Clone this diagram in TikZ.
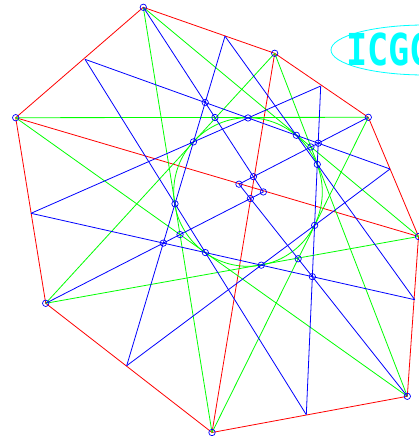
\documentclass[tikz,border=0pt]{standalone}
\usepackage{graphicx}
\usepackage{fontspec}
\newfontfamily\logofont{DejaVu Sans Mono}
\definecolor{logocyan}{RGB}{0,255,255}
\begin{document}
\begin{tikzpicture}[x=1pt, y=-1pt, line width=0.8pt,
  edge/.style={red},
  diag/.style={green},
  chord/.style={blue},
  ray/.style={blue},
  dot/.style={blue, line width=0.7pt}]
\useasboundingbox (0,0) rectangle (419,436);
% octagon
\coordinate (P1) at (143.3,7.3);
\coordinate (P2) at (274.7,53.3);
\coordinate (P3) at (368.3,117.3);
\coordinate (P4) at (418.5,236.5);
\coordinate (P5) at (407.3,396.3);
\coordinate (P6) at (212.0,432.5);
\coordinate (P7) at (45.7,303.3);
\coordinate (P8) at (15.7,117.7);
% points on the sides
\coordinate (Q1) at (85.0,59.3);
\coordinate (Q2) at (225.0,36.2);
\coordinate (Q3) at (320.7,86.0);
\coordinate (Q4) at (390.0,169.0);
\coordinate (Q5) at (414.7,299.7);
\coordinate (Q6) at (306.3,414.7);
\coordinate (Q7) at (126.7,365.7);
\coordinate (Q8) at (31.0,213.3);
\draw[edge] (P1) -- (P2) -- (P3) -- (P4) -- (P5) -- (P6) -- (P7) -- (P8) -- cycle;
\draw[edge] (P2) -- (P6);
\draw[edge] (P8) -- (P4);
% green diagonals and their circle
\foreach \a/\b in {1/4,2/5,3/6,4/7,5/8,6/1,7/2,8/3}
  \draw[diag] (P\a) -- (P\b);
\draw[diag] (248,192) circle (74.3);
% blue chords
\foreach \a/\b in {1/4,1/6,2/5,2/7,3/6,3/8,4/7,5/8}
  \draw[chord] (Q\a) -- (Q\b);
\coordinate (X1) at (intersection of Q1--Q4 and Q2--Q7);
\coordinate (X3) at (intersection of Q1--Q4 and Q3--Q6);
\coordinate (X5) at (intersection of Q3--Q6 and Q5--Q8);
\coordinate (X7) at (intersection of Q2--Q7 and Q5--Q8);
\coordinate (A) at (intersection of P3--X3 and P5--X5);
\coordinate (B) at (intersection of P1--X1 and P3--X3);
\coordinate (C) at (intersection of P1--X1 and P7--X7);
\coordinate (D) at (intersection of P5--X5 and P7--X7);
\draw[ray] (P1) -- (C);
\draw[ray] (P7) -- (C);
\draw[ray] (P3) -- (A);
\draw[ray] (P5) -- (A);
% crossings
\coordinate (G1) at (intersection of P1--X1 and P8--P3);
\coordinate (G3) at (intersection of P3--X3 and P2--P5);
\coordinate (G5) at (intersection of P5--X5 and P3--P6);
\coordinate (G7) at (intersection of P7--X7 and P1--P6);
\coordinate (K1) at (intersection of Q1--Q4 and Q3--Q8);
\coordinate (K2) at (intersection of Q1--Q4 and Q2--Q5);
\coordinate (K3) at (intersection of Q2--Q7 and Q3--Q8);
\coordinate (K4) at (intersection of Q2--Q5 and Q3--Q6);
\coordinate (K5) at (intersection of Q1--Q6 and Q2--Q7);
\coordinate (K6) at (intersection of Q1--Q6 and Q5--Q8);
\coordinate (K7) at (intersection of Q4--Q7 and Q5--Q8);
\coordinate (K8) at (intersection of Q3--Q6 and Q4--Q7);
\foreach \p in {P1,P2,P3,P4,P5,P6,P7,P8,X1,X3,X5,X7,A,B,C,D,G1,G3,G5,G7,K1,K2,K3,K4,K5,K6,K7,K8}
  \draw[dot] (\p) circle (3.2);
% logo
\draw[logocyan] (425,50) ellipse [x radius=94, y radius=25];
\node[logocyan, anchor=base west, inner sep=0pt, font=\logofont\bfseries\fontsize{44}{44}\selectfont] (logo) at (346,65) {\scalebox{0.8}[1]{ICGC}};
\end{tikzpicture}
\end{document}
